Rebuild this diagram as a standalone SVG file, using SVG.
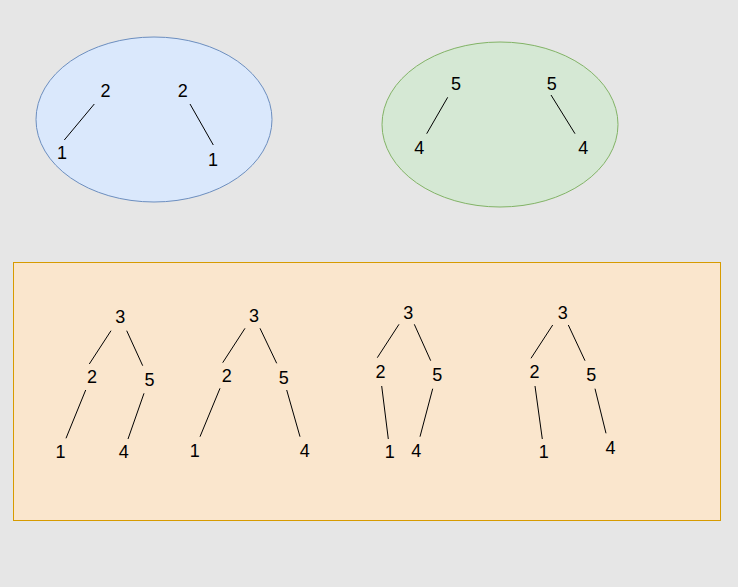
<svg xmlns="http://www.w3.org/2000/svg" width="738" height="587" viewBox="0 0 738 587">
<style>
text { font-family: "Liberation Sans", Arial, sans-serif; font-size: 18px; fill: #000; text-anchor: middle; }
.edge { stroke: #000; stroke-width: 1; fill: none; }
</style>
<rect x="0" y="0" width="738" height="587" fill="#e6e6e6"/>
<g id="blue-group">
<ellipse cx="154" cy="119.5" rx="118" ry="82.5" fill="#dae8fc" stroke="#6c8ebf"/>
</g>
<g id="green-group">
<ellipse cx="500" cy="124.5" rx="118" ry="82.5" fill="#d5e8d4" stroke="#82b366"/>
</g>
<g id="orange-group">
<rect x="13.5" y="262.5" width="707" height="258" fill="#fae6cd" stroke="#d79b00"/>
</g>
<g id="connectors">
<line class="edge" x1="94.3" y1="104" x2="64.3" y2="140"/>
<line class="edge" x1="190" y1="104" x2="213.3" y2="145"/>
<line class="edge" x1="447.7" y1="97.3" x2="426.7" y2="133.7"/>
<line class="edge" x1="551" y1="95" x2="575" y2="133.7"/>

<line class="edge" x1="111" y1="330.7" x2="89.3" y2="364"/>
<line class="edge" x1="126.7" y1="330.7" x2="142.7" y2="365.7"/>
<line class="edge" x1="85.7" y1="390" x2="66" y2="438.3"/>
<line class="edge" x1="144" y1="393.3" x2="128" y2="439"/>

<line class="edge" x1="245" y1="328.3" x2="222.7" y2="362.7"/>
<line class="edge" x1="260" y1="328.3" x2="276.7" y2="363.3"/>
<line class="edge" x1="220" y1="388.3" x2="200" y2="436.7"/>
<line class="edge" x1="286.7" y1="390" x2="300" y2="436.7"/>

<line class="edge" x1="399" y1="324.3" x2="377.3" y2="357.7"/>
<line class="edge" x1="414.3" y1="324.3" x2="430.7" y2="360.7"/>
<line class="edge" x1="381.7" y1="386" x2="388.3" y2="439"/>
<line class="edge" x1="432.7" y1="388.7" x2="420" y2="436.7"/>

<line class="edge" x1="552.7" y1="325" x2="531" y2="358.3"/>
<line class="edge" x1="568.3" y1="325" x2="585" y2="360.7"/>
<line class="edge" x1="535" y1="386" x2="542.3" y2="439"/>
<line class="edge" x1="595" y1="388.7" x2="606" y2="433.3"/>
</g>
<g id="n-b2a"><text x="105.5" y="96.7">2</text></g>
<g id="n-b1a"><text x="62" y="159">1</text></g>
<g id="n-b2b"><text x="182.7" y="96.7">2</text></g>
<g id="n-b1b"><text x="213" y="166">1</text></g>
<g id="n-g5a"><text x="456" y="90">5</text></g>
<g id="n-g4a"><text x="419.3" y="154">4</text></g>
<g id="n-g5b"><text x="551.7" y="90">5</text></g>
<g id="n-g4b"><text x="583.3" y="154">4</text></g>

<g id="t1-3"><text x="120.3" y="323.3">3</text></g>
<g id="t1-2"><text x="92" y="383.3">2</text></g>
<g id="t1-5"><text x="149.5" y="386">5</text></g>
<g id="t1-1"><text x="60.5" y="458.3">1</text></g>
<g id="t1-4"><text x="123.8" y="458.3">4</text></g>

<g id="t2-3"><text x="254" y="322.3">3</text></g>
<g id="t2-2"><text x="226.7" y="381.7">2</text></g>
<g id="t2-5"><text x="283.8" y="384.3">5</text></g>
<g id="t2-1"><text x="194.7" y="456.7">1</text></g>
<g id="t2-4"><text x="304.7" y="456.7">4</text></g>

<g id="t3-3"><text x="408.3" y="319">3</text></g>
<g id="t3-2"><text x="380.5" y="378.3">2</text></g>
<g id="t3-5"><text x="437.2" y="381">5</text></g>
<g id="t3-1"><text x="389.7" y="458.3">1</text></g>
<g id="t3-4"><text x="416.3" y="456.7">4</text></g>

<g id="t4-3"><text x="562.8" y="319">3</text></g>
<g id="t4-2"><text x="534.5" y="378.3">2</text></g>
<g id="t4-5"><text x="591.3" y="381">5</text></g>
<g id="t4-1"><text x="543.8" y="458.3">1</text></g>
<g id="t4-4"><text x="610.5" y="454.3">4</text></g>
</svg>
